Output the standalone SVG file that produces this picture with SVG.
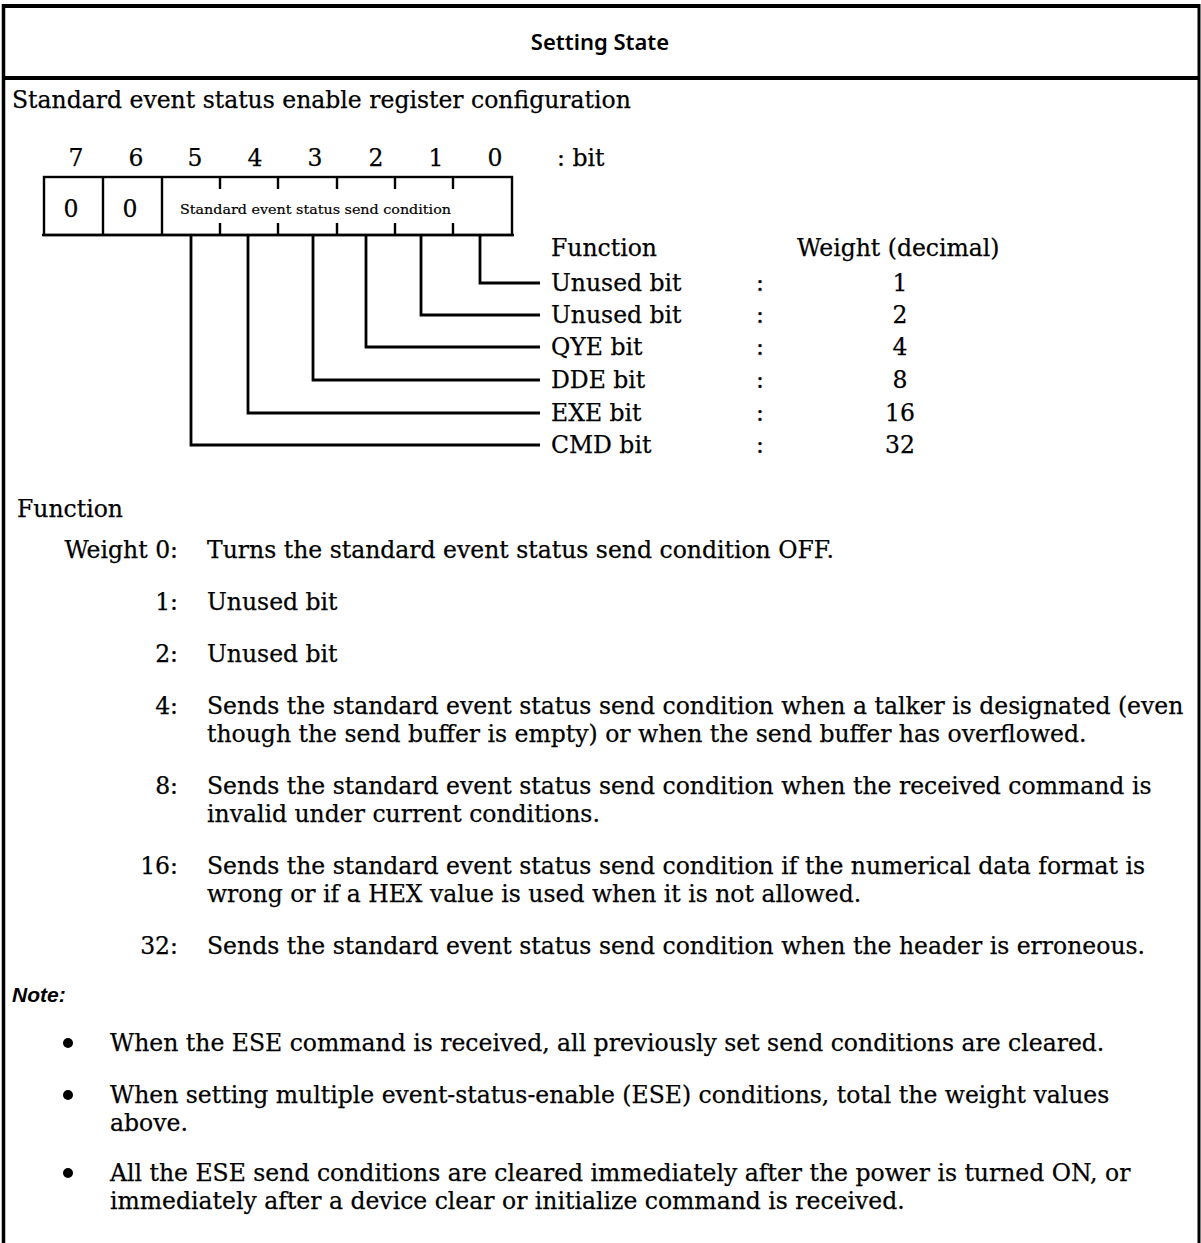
<svg xmlns="http://www.w3.org/2000/svg" width="1201" height="1243" viewBox="0 0 1201 1243">
  <style>
    .body { font-family: "DejaVu Serif", "Liberation Serif", serif; font-size: 23.5px; fill: #000; stroke: #000; stroke-width: 0.25; }
    .small { font-family: "DejaVu Serif", "Liberation Serif", serif; font-size: 13px; fill: #000; stroke: #000; stroke-width: 0.2; }
    .title { font-family: "Noto Sans", "Open Sans", sans-serif; font-size: 22px; font-weight: 600; fill: #000; }
    .note { font-family: "Liberation Sans", "Noto Sans", sans-serif; font-size: 21px; font-weight: bold; font-style: italic; fill: #000; }
    .mid { text-anchor: middle; }
    .end { text-anchor: end; }
    .frame { stroke: #000; fill: none; }
    .cell { stroke: #000; stroke-width: 2.4; fill: none; }
    .wire { stroke: #000; stroke-width: 2.8; fill: none; }
  </style>

  <!-- outer frame and header rule -->
  <g id="frame">
    <rect x="0" y="0" width="1201" height="1243" fill="#fff"/>
    <line class="frame" x1="3" y1="6" x2="1200" y2="6" stroke-width="4"/>
    <line class="frame" x1="3" y1="78" x2="1200" y2="78" stroke-width="4"/>
    <line class="frame" x1="3.5" y1="4" x2="3.5" y2="1243" stroke-width="3.5"/>
    <line class="frame" x1="1199" y1="4" x2="1199" y2="1243" stroke-width="3"/>
    <text class="title mid" x="600" y="50">Setting State</text>
  </g>

  <text class="body" x="12" y="108">Standard event status enable register configuration</text>

  <!-- bit numbers -->
  <g id="bit-numbers" class="body mid">
    <text x="76" y="166">7</text>
    <text x="136" y="166">6</text>
    <text x="195" y="166">5</text>
    <text x="255" y="166">4</text>
    <text x="315" y="166">3</text>
    <text x="376" y="166">2</text>
    <text x="436" y="166">1</text>
    <text x="495" y="166">0</text>
  </g>
  <text class="body" x="557" y="166">: bit</text>

  <!-- register box -->
  <g id="register">
    <rect class="cell" x="44" y="177" width="468" height="58"/>
    <line class="cell" x1="42" y1="235" x2="514" y2="235" stroke-width="3"/>
    <line class="cell" x1="103" y1="177" x2="103" y2="235"/>
    <line class="cell" x1="162" y1="177" x2="162" y2="235"/>
    <!-- tick marks between merged bits 5..0 -->
    <g class="cell">
      <line x1="220" y1="177" x2="220" y2="189"/><line x1="220" y1="223" x2="220" y2="235"/>
      <line x1="278" y1="177" x2="278" y2="189"/><line x1="278" y1="223" x2="278" y2="235"/>
      <line x1="337" y1="177" x2="337" y2="189"/><line x1="337" y1="223" x2="337" y2="235"/>
      <line x1="395" y1="177" x2="395" y2="189"/><line x1="395" y1="223" x2="395" y2="235"/>
      <line x1="453" y1="177" x2="453" y2="189"/><line x1="453" y1="223" x2="453" y2="235"/>
    </g>
    <text class="body mid" x="71" y="217">0</text>
    <text class="body mid" x="130" y="217">0</text>
    <text class="small" x="180" y="214" textLength="271" lengthAdjust="spacingAndGlyphs">Standard event status send condition</text>
  </g>

  <!-- bit leader lines -->
  <g id="connectors">
    <polyline class="wire" points="480,235 480,283 540,283"/>
    <polyline class="wire" points="421,235 421,315 540,315"/>
    <polyline class="wire" points="366,235 366,347 540,347"/>
    <polyline class="wire" points="313,235 313,380 540,380"/>
    <polyline class="wire" points="248,235 248,413 540,413"/>
    <polyline class="wire" points="191,235 191,445 540,445"/>
  </g>

  <!-- function / weight table -->
  <g id="bit-table" class="body">
    <text x="551" y="256">Function</text>
    <text x="797" y="256">Weight (decimal)</text>

    <text x="551" y="291">Unused bit</text>
    <text x="756" y="291">:</text>
    <text class="mid" x="900" y="291">1</text>

    <text x="551" y="323">Unused bit</text>
    <text x="756" y="323">:</text>
    <text class="mid" x="900" y="323">2</text>

    <text x="551" y="355">QYE bit</text>
    <text x="756" y="355">:</text>
    <text class="mid" x="900" y="355">4</text>

    <text x="551" y="388">DDE bit</text>
    <text x="756" y="388">:</text>
    <text class="mid" x="900" y="388">8</text>

    <text x="551" y="421">EXE bit</text>
    <text x="756" y="421">:</text>
    <text class="mid" x="900" y="421">16</text>

    <text x="551" y="453">CMD bit</text>
    <text x="756" y="453">:</text>
    <text class="mid" x="900" y="453">32</text>
  </g>

  <!-- function descriptions -->
  <g id="functions" class="body">
    <text x="17" y="517">Function</text>
    <text class="end" x="178" y="558">Weight 0:</text>
    <text x="207" y="558">Turns the standard event status send condition OFF.</text>

    <text class="end" x="178" y="610">1:</text>
    <text x="207" y="610">Unused bit</text>

    <text class="end" x="178" y="662">2:</text>
    <text x="207" y="662">Unused bit</text>

    <text class="end" x="178" y="714">4:</text>
    <text x="207" y="714">Sends the standard event status send condition when a talker is designated (even</text>
    <text x="207" y="742">though the send buffer is empty) or when the send buffer has overflowed.</text>

    <text class="end" x="178" y="794">8:</text>
    <text x="207" y="794">Sends the standard event status send condition when the received command is</text>
    <text x="207" y="822">invalid under current conditions.</text>

    <text class="end" x="178" y="874">16:</text>
    <text x="207" y="874">Sends the standard event status send condition if the numerical data format is</text>
    <text x="207" y="902">wrong or if a HEX value is used when it is not allowed.</text>

    <text class="end" x="178" y="954">32:</text>
    <text x="207" y="954">Sends the standard event status send condition when the header is erroneous.</text>
  </g>

  <!-- notes -->
  <g id="notes">
    <text class="note" x="12" y="1002">Note:</text>
    <circle cx="68" cy="1043" r="5"/>
    <text class="body" x="110" y="1051">When the ESE command is received, all previously set send conditions are cleared.</text>
    <circle cx="68" cy="1095" r="5"/>
    <text class="body" x="110" y="1103">When setting multiple event-status-enable (ESE) conditions, total the weight values</text>
    <text class="body" x="110" y="1131">above.</text>
    <circle cx="68" cy="1173" r="5"/>
    <text class="body" x="110" y="1181">All the ESE send conditions are cleared immediately after the power is turned ON, or</text>
    <text class="body" x="110" y="1209">immediately after a device clear or initialize command is received.</text>
  </g>
</svg>
